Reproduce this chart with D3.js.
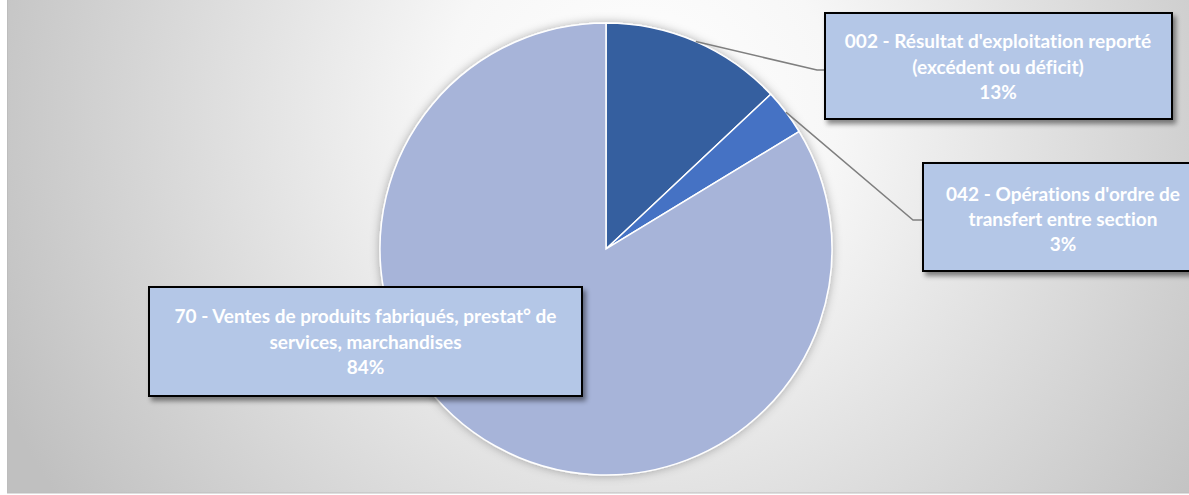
<!DOCTYPE html>
<html><head><meta charset="utf-8">
<script src="https://cdn.jsdelivr.net/npm/d3@7"></script>
<style>html,body{margin:0;padding:0;background:#fff;overflow:hidden} text{font-variant-ligatures:none;font-feature-settings:"liga" 0}</style>
</head><body>
<script>
const categories = ["002", "042", "70"];
const labelLines = [
  ["002 - Résultat d'exploitation reporté", "(excédent ou déficit)"],
  ["042 - Opérations d'ordre de", "transfert entre section"],
  ["70 - Ventes de produits fabriqués, prestat° de", "services, marchandises"]
];
const values = [13.0, 3.3, 83.7];
const percentLabels = ["13%", "3%", "84%"];
const colors = ["#365E9F", "#4472C4", "#A7B4D9"];

const W = 1189, H = 495;
const svg = d3.select("body").append("svg").attr("width", W).attr("height", H);
const defs = svg.append("defs");
const grad = defs.append("radialGradient").attr("id", "bg")
  .attr("gradientUnits", "userSpaceOnUse").attr("cx", 640).attr("cy", 110).attr("r", 700);
grad.append("stop").attr("offset", "0%").attr("stop-color", "#ffffff");
grad.append("stop").attr("offset", "28%").attr("stop-color", "#f7f7f7");
grad.append("stop").attr("offset", "100%").attr("stop-color", "#c0c0c0");

const fPie = defs.append("filter").attr("id", "pieShadow").attr("x", "-20%").attr("y", "-20%").attr("width", "140%").attr("height", "140%");
fPie.append("feDropShadow").attr("dx", 0).attr("dy", 0).attr("stdDeviation", 5).attr("flood-color", "#000").attr("flood-opacity", 0.3);
const fBox = defs.append("filter").attr("id", "boxShadow").attr("x", "-10%").attr("y", "-20%").attr("width", "130%").attr("height", "150%");
fBox.append("feDropShadow").attr("dx", 3).attr("dy", 4).attr("stdDeviation", 2.5).attr("flood-color", "#000").attr("flood-opacity", 0.45);

svg.append("rect").attr("x", 7.5).attr("y", -1).attr("width", W).attr("height", 494)
  .attr("fill", "url(#bg)").attr("stroke", "#bdbdbd").attr("stroke-width", 1);

const cx = 606, cy = 249, R = 226;
const pie = d3.pie().sort(null).value(d => d);
const arcs = pie(values);
const arc = d3.arc().innerRadius(0).outerRadius(R);
const g = svg.append("g").attr("transform", `translate(${cx},${cy})`);
g.append("g").attr("filter", "url(#pieShadow)").selectAll("path").data(arcs).join("path")
  .attr("d", arc).attr("fill", (d, i) => colors[i]).attr("stroke", "#fff").attr("stroke-width", 1.5);

// label boxes layout
const boxes = [
  {x: 825, y: 13, w: 347, h: 106, tx: 998, base: [48, 74, 99], leader: [[817, 70], [825, 70]]},
  {x: 923, y: 163, w: 280, h: 108, tx: 1063, base: [201, 226, 251], leader: [[913, 220], [923, 220]]},
  {x: 149, y: 287, w: 433, h: 109, tx: 365.5, base: [323, 349, 374], leader: null}
];

arcs.forEach((d, i) => {
  const b = boxes[i];
  if (b.leader) {
    const mid = (d.startAngle + d.endAngle) / 2;
    const p0 = [cx + R * Math.sin(mid), cy - R * Math.cos(mid)];
    svg.append("path").attr("d", d3.line()([p0, ...b.leader]))
      .attr("fill", "none").attr("stroke", "#7f7f7f").attr("stroke-width", 1.5);
  }
});

arcs.forEach((d, i) => {
  const b = boxes[i];
  const bg = svg.append("g");
  bg.append("rect").attr("x", b.x).attr("y", b.y).attr("width", b.w).attr("height", b.h)
    .attr("fill", "#B4C7E7").attr("stroke", "#000").attr("stroke-width", 2).attr("filter", "url(#boxShadow)");
  const lines = [...labelLines[i], percentLabels[i]];
  lines.forEach((t, j) => {
    bg.append("text").attr("x", b.tx).attr("y", b.base[j]).attr("text-anchor", "middle")
      .attr("font-family", "Lato, 'Open Sans', sans-serif").attr("font-weight", "bold")
      .attr("font-size", 19).attr("fill", "#fff").text(t);
  });
});
</script>
</body></html>
